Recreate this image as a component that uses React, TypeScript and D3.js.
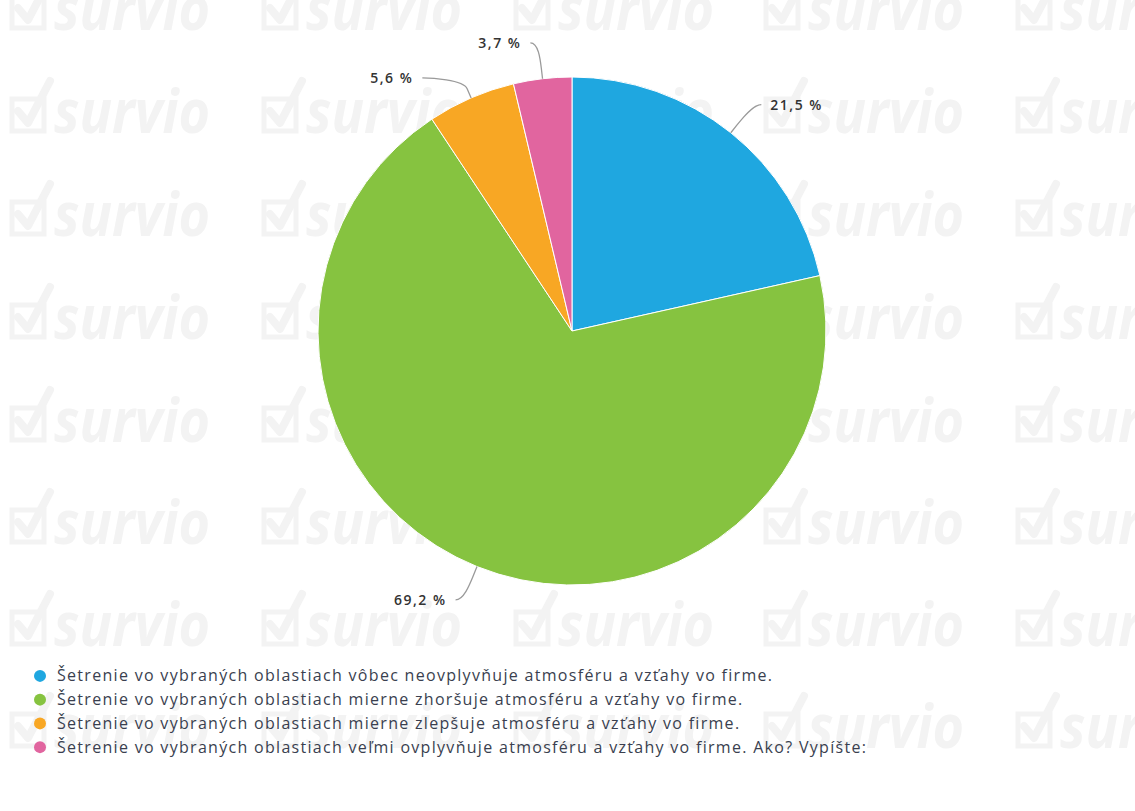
import React from "react";
import * as d3 from "d3";

const categories = [
  "Šetrenie vo vybraných oblastiach vôbec neovplyvňuje atmosféru a vzťahy vo firme.",
  "Šetrenie vo vybraných oblastiach mierne zhoršuje atmosféru a vzťahy vo firme.",
  "Šetrenie vo vybraných oblastiach mierne zlepšuje atmosféru a vzťahy vo firme.",
  "Šetrenie vo vybraných oblastiach veľmi ovplyvňuje atmosféru a vzťahy vo firme. Ako? Vypíšte:",
];
const values = [21.5, 69.2, 5.6, 3.7];
const valueLabels = ["21,5 %", "69,2 %", "5,6 %", "3,7 %"];
const colors = ["#1fa7e0", "#86c340", "#f8a724", "#e1659f"];

const W = 1135;
const H = 811;
const cx = 572;
const cy = 331;
const R = 254;
const labelDist = 36;

const wmCols = [10, 262, 514, 764, 1016];
const wmRows = [30, 133, 236, 339, 442, 544, 646, 748];

function Watermark({ x, y }: { x: number; y: number }) {
  const c = "#f3f3f3";
  return (
    <g transform={`translate(${x},${y})`}>
      <rect x={2} y={-34} width={32} height={32} fill="none" stroke={c} strokeWidth={5} />
      <path d="M8,-22 L18,-10 L40,-52" fill="none" stroke={c} strokeWidth={8} strokeLinecap="round" strokeLinejoin="round" />
      <text
        x={44}
        y={0}
        fontFamily="'Open Sans', sans-serif"
        fontWeight={700}
        fontStyle="italic"
        fontSize={60}
        fill={c}
        textLength={156}
        lengthAdjust="spacingAndGlyphs"
      >
        survio
      </text>
    </g>
  );
}

export default function App() {
  const pie = d3
    .pie<number>()
    .sort(null)
    .value((d) => d)
    .startAngle(0)
    .endAngle(2 * Math.PI);
  const arcs = pie(values);
  const arcGen = d3.arc<d3.PieArcDatum<number>>().innerRadius(0).outerRadius(R);

  // label placement (Highcharts-like)
  const RL = R + labelDist;
  const labels = arcs.map((a, i) => {
    const mid = (a.startAngle + a.endAngle) / 2;
    const right = Math.sin(mid) >= 0;
    const y0 = cy - RL * Math.cos(mid);
    return { i, mid, right, y: y0 };
  });
  const minGap = 35;
  [true, false].forEach((side) => {
    const group = labels.filter((l) => l.right === side).sort((a, b) => a.y - b.y);
    for (let k = 1; k < group.length; k++) {
      if (group[k].y - group[k - 1].y < minGap) group[k].y = group[k - 1].y + minGap;
    }
  });
  const placed = labels.map((l) => {
    const dy = l.y - cy;
    const dx = Math.sqrt(Math.max(0, RL * RL - dy * dy));
    const ax = l.right ? cx + dx : cx - dx;
    const ex = cx + R * Math.sin(l.mid);
    const ey = cy - R * Math.cos(l.mid);
    const bx = cx + (R + 10) * Math.sin(l.mid);
    const by = cy - (R + 10) * Math.cos(l.mid);
    const sx = l.right ? ax + 8 : ax - 8;
    const path = `M${sx},${l.y} C${ax},${l.y} ${2 * bx - ex},${2 * by - ey} ${bx},${by} L${ex},${ey}`;
    return { ...l, ax, path, tx: l.right ? ax + 17 : ax - 17 };
  });

  const legendY = d3.scaleBand<number>().domain(d3.range(categories.length)).range([664, 759]);

  return (
    <div style={{ position: "absolute", left: 0, top: 0, width: W, height: H, background: "#fff" }}>
      <svg width={W} height={H} style={{ display: "block" }}>
        <rect width={W} height={H} fill="#ffffff" />
        {wmRows.map((ry) => wmCols.map((cx2) => <Watermark key={`${cx2}-${ry}`} x={cx2} y={ry} />))}
        <g transform={`translate(${cx},${cy})`}>
          {arcs.map((a, i) => (
            <path key={i} d={arcGen(a) || ""} fill={colors[i]} stroke="#ffffff" strokeWidth={1} strokeLinejoin="round" />
          ))}
        </g>
        {placed.map((p) => (
          <g key={p.i}>
            <path d={p.path} fill="none" stroke="#9a9a9a" strokeWidth={1.3} />
            <text
              x={p.tx}
              y={p.y}
              dy="0.35em"
              textAnchor={p.right ? "start" : "end"}
              fontFamily="'Open Sans', sans-serif"
              fontSize={14}
              fontWeight={600}
              letterSpacing={1.5}
              fill="#333333"
            >
              {valueLabels[p.i]}
            </text>
          </g>
        ))}
        {categories.map((c, i) => {
          const y = (legendY(i) as number) + legendY.bandwidth() / 2;
          return (
            <g key={i}>
              <circle cx={40} cy={y} r={6} fill={colors[i]} />
              <text
                x={57}
                y={y}
                dy="0.35em"
                fontFamily="'Open Sans', sans-serif"
                fontSize={16}
                letterSpacing={1.3}
                fill="#3a3f4f"
              >
                {c}
              </text>
            </g>
          );
        })}
      </svg>
    </div>
  );
}
